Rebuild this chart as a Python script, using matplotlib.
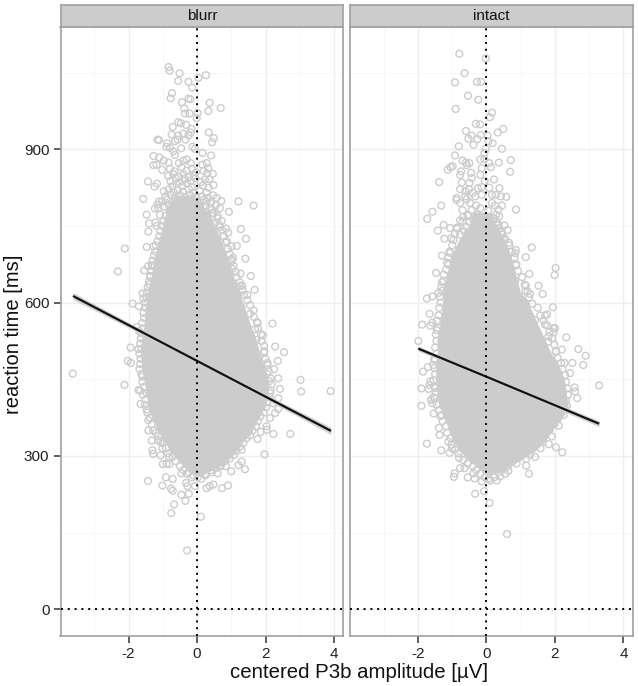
import matplotlib
matplotlib.use("Agg")
import matplotlib.pyplot as plt

plt.rcParams['font.family'] = ['Liberation Sans', 'DejaVu Sans']
plt.rcParams['axes.unicode_minus'] = False

panels = ["blurr", "intact"]
x_ticks = [-2, 0, 2, 4]
x_minor = [-3, -1, 1, 3]
y_ticks = [0, 300, 600, 900]
y_minor = [150, 450, 750, 1050]

blurr_points = [
(-0.83,1061),(-0.80,1054),(-0.51,1049),(-0.55,1034),(-0.25,1032),(-0.14,1021),(0.04,1040),(0.26,1045),
(-0.73,1010),(-0.77,1000),(-0.25,999),(-0.19,998),(-0.44,992),(0.37,991),(0.33,975),(0.69,981),
(-0.37,980),(-0.35,970),(-0.22,970),(0.02,971),(-0.01,961),(-0.55,953),(-0.47,951),(-0.32,948),
(-0.71,944),(-0.16,940),(-0.18,933),(-0.74,929),(-0.55,927),(-0.40,931),(-0.25,927),(0.34,933),
(0.49,922),(0.44,914),(-1.15,919),(-1.11,918),(-0.57,919),(-0.34,919),(-0.87,912),(-0.64,916),
(-0.89,905),(-0.46,902),(-0.79,903),(-0.13,905),(-0.06,901),(-0.69,896),(-0.64,889),(0.16,893),
(0.41,888),(-1.27,887),(-1.10,884),(-0.97,878),(-0.83,874),(-1.27,869),(-1.18,870),(-1.02,860),
(-0.53,873),(-0.40,878),(-0.30,880),(-0.18,873),(0.16,870),(0.28,873),(0.33,863),(0.46,852),
(-1.43,837),(-1.17,833),(-1.24,827),(0.23,841),(0.48,830),(-1.57,803),(1.21,798),(1.65,790),
(-1.11,798),(-1.15,792),(-1.23,784),(-1.13,785),(0.93,778),(0.71,799),(0.57,805),(0.67,785),
(-1.47,772),(-1.08,772),(-1.40,755),(-1.21,757),(-1.18,750),(-1.42,739),(1.28,744),(0.91,737),
(1.43,725),(0.67,748),(-2.11,706),(-1.47,709),(-1.27,710),(1.16,711),(1.01,710),(0.87,720),
(1.41,686),(1.05,688),(1.01,681),(-2.31,661),(-1.54,663),(-1.43,671),(-1.32,673),(1.03,666),
(1.27,657),(1.57,652),(-1.36,651),(-1.39,636),(1.26,633),(1.32,633),(1.68,625),(1.01,638),
(-1.59,618),(1.47,615),(1.21,615),(-1.57,608),(-1.39,612),
(-0.79,862),(-0.66,857),(-0.45,865),(-0.31,858),(-0.14,862),(-0.03,855),(0.19,858),
(-0.84,848),(-0.70,852),(-0.53,846),(-0.39,851),(-0.24,846),(-0.10,849),(0.30,853),
(-0.78,838),(-0.62,843),(-0.51,836),(-0.36,842),(-0.18,838),(-0.05,843),(0.12,836),(0.36,842),
(-0.72,828),(-0.60,832),(-0.43,828),(-0.29,833),(-0.15,826),(0.17,829),(0.34,825),
(-0.97,818),(-0.83,822),(-0.68,816),(-0.56,820),(-0.41,817),(-0.24,822),(-0.10,815),(0.08,819),(0.27,815),
(-0.92,808),(-0.78,812),(-0.63,806),(-0.49,810),(-0.34,806),(-0.21,811),(-0.04,806),(0.14,808),(0.32,805),(0.47,810),
(-1.02,798),(-0.87,802),(-0.73,796),(0.03,797),(0.19,801),(0.40,795),
(-0.97,788),(-0.83,792),(0.09,788),(0.26,790),(0.44,782),
(0.45,775),(0.60,770),(0.72,760),(0.85,745),(0.78,730),(0.55,790),(0.15,775),(0.30,770),(0.52,755),
(-3.63,461),(-2.12,439),(-1.93,482),(-2.02,486),(-1.94,512),(-1.71,509),(-1.76,552),(-1.69,544),
(-1.88,598),(-1.70,593),(-1.60,455),(-1.71,429),(-1.66,428),(-1.47,423),(-1.65,402),(-1.47,391),
(-1.42,370),(-1.42,350),(-1.13,339),(-1.32,330),(-1.06,327),(-1.01,315),(-1.30,311),(-1.28,304),
(-1.06,301),(-0.82,298),(-1.00,284),(-0.89,285),(-0.81,284),(-0.46,266),(-0.30,265),(-1.43,251),
(-0.91,258),(-0.71,255),(-1.01,242),(-0.76,236),(-0.71,232),(-0.32,247),(-0.28,241),(-0.06,241),
(-0.15,258),(-0.46,224),(-0.24,226),(-0.34,212),(-0.67,205),(-0.75,188),(0.11,181),(-0.29,115),
(0.28,237),(0.37,241),(0.48,244),(0.73,237),(0.90,242),(1.40,274),(1.00,270),(0.60,266),
(0.43,268),(0.24,265),(0.67,279),(0.84,280),(1.21,282),(1.30,289),(1.30,312),(1.97,303),
(1.77,333),(2.23,343),(2.72,343),(1.86,347),(2.03,358),(2.03,351),(2.13,374),(2.28,384),
(2.37,392),(2.37,413),(2.42,431),(3.04,426),(3.02,449),(3.90,427),(2.37,452),(2.25,470),
(2.36,486),(2.06,482),(2.54,503),(2.28,514),(1.96,505),(1.92,536),(2.20,559),(1.77,560),
(1.55,578),(1.30,591),(1.69,548),(1.74,527),(2.03,461),(2.11,446),(2.13,423),(2.23,403),
]

blurr_rim = [
(-0.80,780),(-0.92,770),(-0.98,760),(-1.02,750),(-1.08,740),(-1.10,730),(-1.15,720),(-1.20,712),(-1.22,700),
(-1.26,692),(-1.30,682),(-1.28,672),(-1.34,662),(-1.37,652),(-1.40,642),(-1.44,630),(-1.46,620),(-1.48,610),
(-1.52,600),(-1.50,590),(-1.56,580),(-1.55,570),(-1.60,560),(-1.58,550),(-1.62,540),(-1.64,530),(-1.66,520),
(-1.62,510),(-1.68,500),(-1.65,490),(-1.66,480),(-1.68,470),(-1.62,460),(-1.60,445),(-1.55,435),(-1.58,420),
(-1.50,410),(-1.52,400),(-1.45,385),(-1.38,375),(-1.32,362),(-1.28,350),(-1.20,345),(-1.12,330),(-1.00,325),
(-0.90,315),(-0.85,305),(-0.72,298),(-0.62,290),(-0.50,280),(-0.40,272),(-0.25,268),(-0.10,262),(0.02,258),(0.12,255),
(0.25,262),(0.40,272),(0.55,276),(0.70,282),(0.82,290),(0.95,295),(1.08,302),(1.15,310),(1.25,318),(1.35,325),
(1.45,335),(1.55,340),(1.62,350),(1.72,358),(1.78,368),(1.85,378),(1.95,385),(2.02,395),(2.05,405),(2.12,415),
(2.15,428),(2.18,440),(2.15,452),(2.10,465),(2.05,478),(2.00,490),(1.96,502),(1.96,515),(1.88,525),(1.87,538),
(1.78,550),(1.75,562),(1.66,572),(1.65,585),(1.55,595),(1.47,605),(1.37,615),(1.33,625),(1.25,640),(1.15,650),
(1.13,660),(1.07,672),(1.00,685),(0.95,695),(0.90,705),(0.83,718),(0.77,730),(0.73,742),(0.65,752),(0.60,765),
(0.48,775),(0.38,785),(0.28,798),
]

blurr_body_rt = [808,788,762,736,710,684,658,632,606,580,553,527,501,475,449,423,397,371,345,325,305,286,269,263]
blurr_body_left = [-0.64,-0.84,-0.93,-1.03,-1.13,-1.23,-1.29,-1.37,-1.45,-1.49,-1.52,-1.59,-1.62,-1.59,-1.52,-1.45,-1.39,-1.27,-1.08,-0.89,-0.69,-0.45,-0.16,0.09]
blurr_body_right = [-0.10,0.15,0.42,0.58,0.73,0.88,1.00,1.14,1.27,1.41,1.55,1.70,1.80,1.94,2.03,2.05,1.96,1.74,1.55,1.26,1.06,0.77,0.28,0.13]

intact_points = [
(-0.79,1087),(-0.02,1078),(-0.64,1049),(-0.92,1031),(-0.28,1032),(-0.16,1032),(-0.54,1005),(-0.24,997),
(-0.90,979),(0.16,972),(0.10,963),(-0.31,950),(-0.19,949),(0.49,940),(0.33,933),(-0.60,936),
(-0.43,927),(-0.53,921),(-0.17,928),(-0.26,920),(-0.38,909),(0.03,927),(0.06,916),(0.18,912),
(-0.81,906),(0.45,901),(-0.02,901),(-0.06,893),(-0.92,888),(-0.70,878),(-0.60,874),(-0.50,873),
(-0.57,869),(-0.18,880),(-0.06,881),(0.36,874),(0.71,879),(0.08,873),(-0.99,867),(-1.05,865),
(-1.13,860),(-0.74,857),(-0.77,850),(-0.45,854),(-0.14,863),(-0.18,850),(0.13,865),(0.69,856),
(-1.38,836),(-0.72,835),(-0.43,844),(0.22,841),(-0.50,834),(-0.77,822),(0.38,824),(-0.25,824),
(-0.14,826),(-0.62,818),(-0.51,822),(-0.87,805),(-0.88,801),(-0.62,808),(-0.33,808),(-0.14,811),
(0.16,811),(0.27,811),(0.42,808),(0.58,807),(-0.77,795),(-0.48,795),(0.16,795),(-1.32,790),
(-1.58,778),(-1.73,764),(0.86,782),(0.45,790),(0.35,782),(-0.70,781),(-0.43,781),(-0.18,785),
(0.37,769),(-0.77,761),(-0.38,762),(-0.18,769),(-1.25,752),(-1.42,741),(-1.06,746),(-0.87,747),
(-0.60,749),(-0.33,749),(-0.09,756),(0.33,752),(0.52,751),(0.62,742),(-1.23,725),(-1.03,726),
(-0.96,723),(-0.77,733),(0.45,733),(0.50,724),(0.66,717),(1.32,708),(0.86,703),(0.84,697),
(1.15,689),(-1.30,692),(-1.06,697),(0.86,673),(2.02,668),(1.99,654),(1.25,656),(-1.47,658),
(-1.11,674),(-1.26,643),(0.84,643),(1.52,633),(1.15,633),(1.64,617),(1.27,617),(1.13,622),
(-1.30,623),(-1.58,612),(-1.74,608),(-1.40,619),(0.84,628),
(-0.58,802),(-0.40,815),(-0.05,838),(0.08,825),(0.25,790),(-0.30,790),(-0.55,772),(-0.28,772),(0.28,772),
(-0.68,768),(-0.50,758),(0.22,765),(0.05,780),(-0.65,740),(-0.55,735),(0.30,758),(0.38,745),
(-1.99,525),(-1.88,557),(-1.66,578),(-1.58,561),(-1.64,555),(-1.45,546),(-1.71,474),(-1.85,465),
(-1.53,489),(-1.55,478),(-1.64,446),(-1.66,439),(-1.90,432),(-1.69,431),(-1.50,433),(-1.55,415),
(-1.62,410),(-1.58,403),(-1.90,398),(-1.54,383),(-1.35,378),(-1.39,355),(-1.37,341),(-1.74,324),
(-1.32,311),(-1.08,306),(-1.01,315),(-1.11,328),(-0.80,296),(-0.77,276),(-0.64,276),(-0.93,266),
(-0.95,259),(-0.55,258),(-0.38,266),(-0.35,256),(-0.14,250),(0.11,252),(0.30,252),(0.40,260),
(0.55,265),(0.64,271),(-0.33,226),(-0.07,231),(0.09,208),(0.60,147),(1.24,265),(0.88,285),
(1.16,281),(1.42,298),(1.27,302),(1.16,294),(2.21,307),(2.03,317),(1.82,323),(1.58,315),
(1.91,338),(1.64,328),(2.11,359),(2.25,380),(2.35,398),(2.65,413),(2.59,426),(2.57,434),
(3.29,438),(2.83,478),(2.90,496),(2.68,509),(2.44,462),(2.51,482),(2.28,482),(2.33,532),
(2.20,508),(2.02,504),(1.96,550),(2.00,550),(1.96,542),(1.94,591),(1.71,557),(1.71,575),
(1.77,577),(1.42,566),(1.27,573),(1.13,599),(1.81,534),(1.81,524),(1.57,527),
]

intact_rim = [
(-0.55,770),(-0.70,758),(-0.85,745),(-0.92,735),(-1.00,712),(-1.08,700),(-1.12,688),(-1.15,678),(-1.18,665),
(-1.25,655),(-1.30,640),(-1.32,630),(-1.36,612),(-1.34,600),(-1.38,590),(-1.40,575),(-1.45,565),(-1.42,550),
(-1.48,538),(-1.46,525),(-1.50,512),(-1.46,500),(-1.50,488),(-1.52,472),(-1.50,460),(-1.55,448),(-1.52,436),
(-1.48,425),(-1.52,412),(-1.45,400),(-1.40,390),(-1.30,380),(-1.28,368),(-1.18,358),(-1.15,345),(-1.05,335),
(-1.02,322),(-0.92,312),(-0.82,305),(-0.68,292),(-0.55,285),(-0.40,280),(-0.30,272),(-0.18,265),(-0.05,258),(0.08,256),
(0.22,258),(0.35,268),(0.48,274),(0.62,280),(0.75,288),(0.92,296),(1.05,302),(1.20,312),(1.35,318),(1.50,328),
(1.62,338),(1.72,346),(1.85,352),(1.98,362),(2.08,372),(2.18,385),(2.28,395),(2.32,408),(2.38,420),(2.36,432),
(2.32,445),(2.30,458),(2.22,470),(2.18,482),(2.08,492),(2.03,505),(1.98,518),(1.92,530),(1.84,542),(1.77,555),
(1.67,565),(1.57,575),(1.50,590),(1.34,598),(1.24,610),(1.20,622),(1.12,635),(1.04,650),(0.92,662),(0.87,675),
(0.82,688),(0.74,700),(0.67,712),(0.54,725),(0.44,738),(0.35,752),(0.22,765),
]

intact_body_rt = [775,749,723,697,671,645,619,606,580,553,527,501,475,449,423,397,377,358,332,312,292,273,266]
intact_body_left = [-0.38,-0.48,-0.77,-0.96,-1.06,-1.16,-1.26,-1.23,-1.28,-1.35,-1.42,-1.40,-1.45,-1.45,-1.42,-1.35,-1.21,-1.11,-0.96,-0.77,-0.48,-0.14,0.06]
intact_body_right = [0.10,0.28,0.50,0.65,0.76,0.86,0.96,1.13,1.32,1.50,1.68,1.85,2.10,2.25,2.30,2.35,2.20,1.96,1.71,1.42,0.93,0.45,0.16]

blurr_fit_x = [-3.62, 0.0, 3.91]
blurr_fit_rt = [613, 486, 349]
blurr_fit_low = [606, 483, 342]
blurr_fit_high = [620, 489, 356]
intact_fit_x = [-1.99, 0.0, 3.29]
intact_fit_rt = [510, 455, 363]
intact_fit_low = [505, 452, 357]
intact_fit_high = [515, 458, 369]

GREY = "#cccccc"
W, H = 638, 686
fig = plt.figure(figsize=(W / 100, H / 100), dpi=100, facecolor="white")

PANEL_X = [(60.5, 343.3), (350.0, 632.7)]
TOP, BOTTOM, STRIP_TOP = 26.7, 636.3, 4.5

series = [
    (blurr_points + blurr_rim, blurr_body_rt, blurr_body_left, blurr_body_right,
     blurr_fit_x, blurr_fit_rt, blurr_fit_low, blurr_fit_high),
    (intact_points + intact_rim, intact_body_rt, intact_body_left, intact_body_right,
     intact_fit_x, intact_fit_rt, intact_fit_low, intact_fit_high),
]

for i, (name, (x0, x1), s) in enumerate(zip(panels, PANEL_X, series)):
    pts, b_rt, b_l, b_r, fx, fy, flo, fhi = s
    ax = fig.add_axes([x0 / W, 1 - BOTTOM / H, (x1 - x0) / W, (BOTTOM - TOP) / H])
    ax.set_xlim(-3.985, 4.27)
    ax.set_ylim(-53, 1140)
    ax.set_xticks(x_ticks)
    ax.set_xticks(x_minor, minor=True)
    ax.set_yticks(y_ticks)
    ax.set_yticks(y_minor, minor=True)
    ax.grid(True, which="major", color="#efefef", lw=1.0, zorder=0)
    ax.grid(True, which="minor", color="#f6f6f6", lw=0.6, zorder=0)
    ax.set_axisbelow(True)

    ax.fill_betweenx(b_rt, b_l, b_r, color=GREY, lw=1.5, zorder=2)
    ax.scatter([p[0] for p in pts], [p[1] for p in pts], s=24, facecolors="none",
               edgecolors=GREY, linewidths=1.0, zorder=3)
    ax.fill_between(fx, flo, fhi, color="#d2d2d2", lw=0, zorder=4)
    ax.plot(fx, fy, color="#111111", lw=1.6, zorder=5, solid_capstyle="butt")

    dotted = (0, (1, 2.5))
    ax.axhline(0, color="black", lw=1.4, ls=dotted, zorder=6)
    ax.axvline(0, color="black", lw=1.4, ls=dotted, zorder=6)

    for sp in ax.spines.values():
        sp.set_color("#a0a0a0")
        sp.set_linewidth(1.2)
    ax.tick_params(which="minor", length=0)
    ax.tick_params(which="major", length=5, width=1.1, color="#333333",
                   labelsize=11, labelcolor="#222222", pad=3)
    if i == 1:
        ax.tick_params(axis="y", which="major", left=False, labelleft=False)

    st = fig.add_axes([x0 / W, 1 - TOP / H, (x1 - x0) / W, (TOP - STRIP_TOP) / H])
    st.set_facecolor(GREY)
    st.set_xticks([])
    st.set_yticks([])
    for sp in st.spines.values():
        sp.set_color("#a0a0a0")
        sp.set_linewidth(1.2)
    st.text(0.5, 0.48, name, transform=st.transAxes, ha="center", va="center",
            fontsize=11, color="#111111")

fig.text(359 / W, 1 - 673 / H, "centered P3b amplitude [µV]", ha="center",
         va="center", fontsize=14.7, color="#111111")
fig.text(13.5 / W, 1 - 334 / H, "reaction time [ms]", rotation=90, ha="center",
         va="center", fontsize=14.5, color="#111111")

fig.savefig("out.png", dpi=100)
